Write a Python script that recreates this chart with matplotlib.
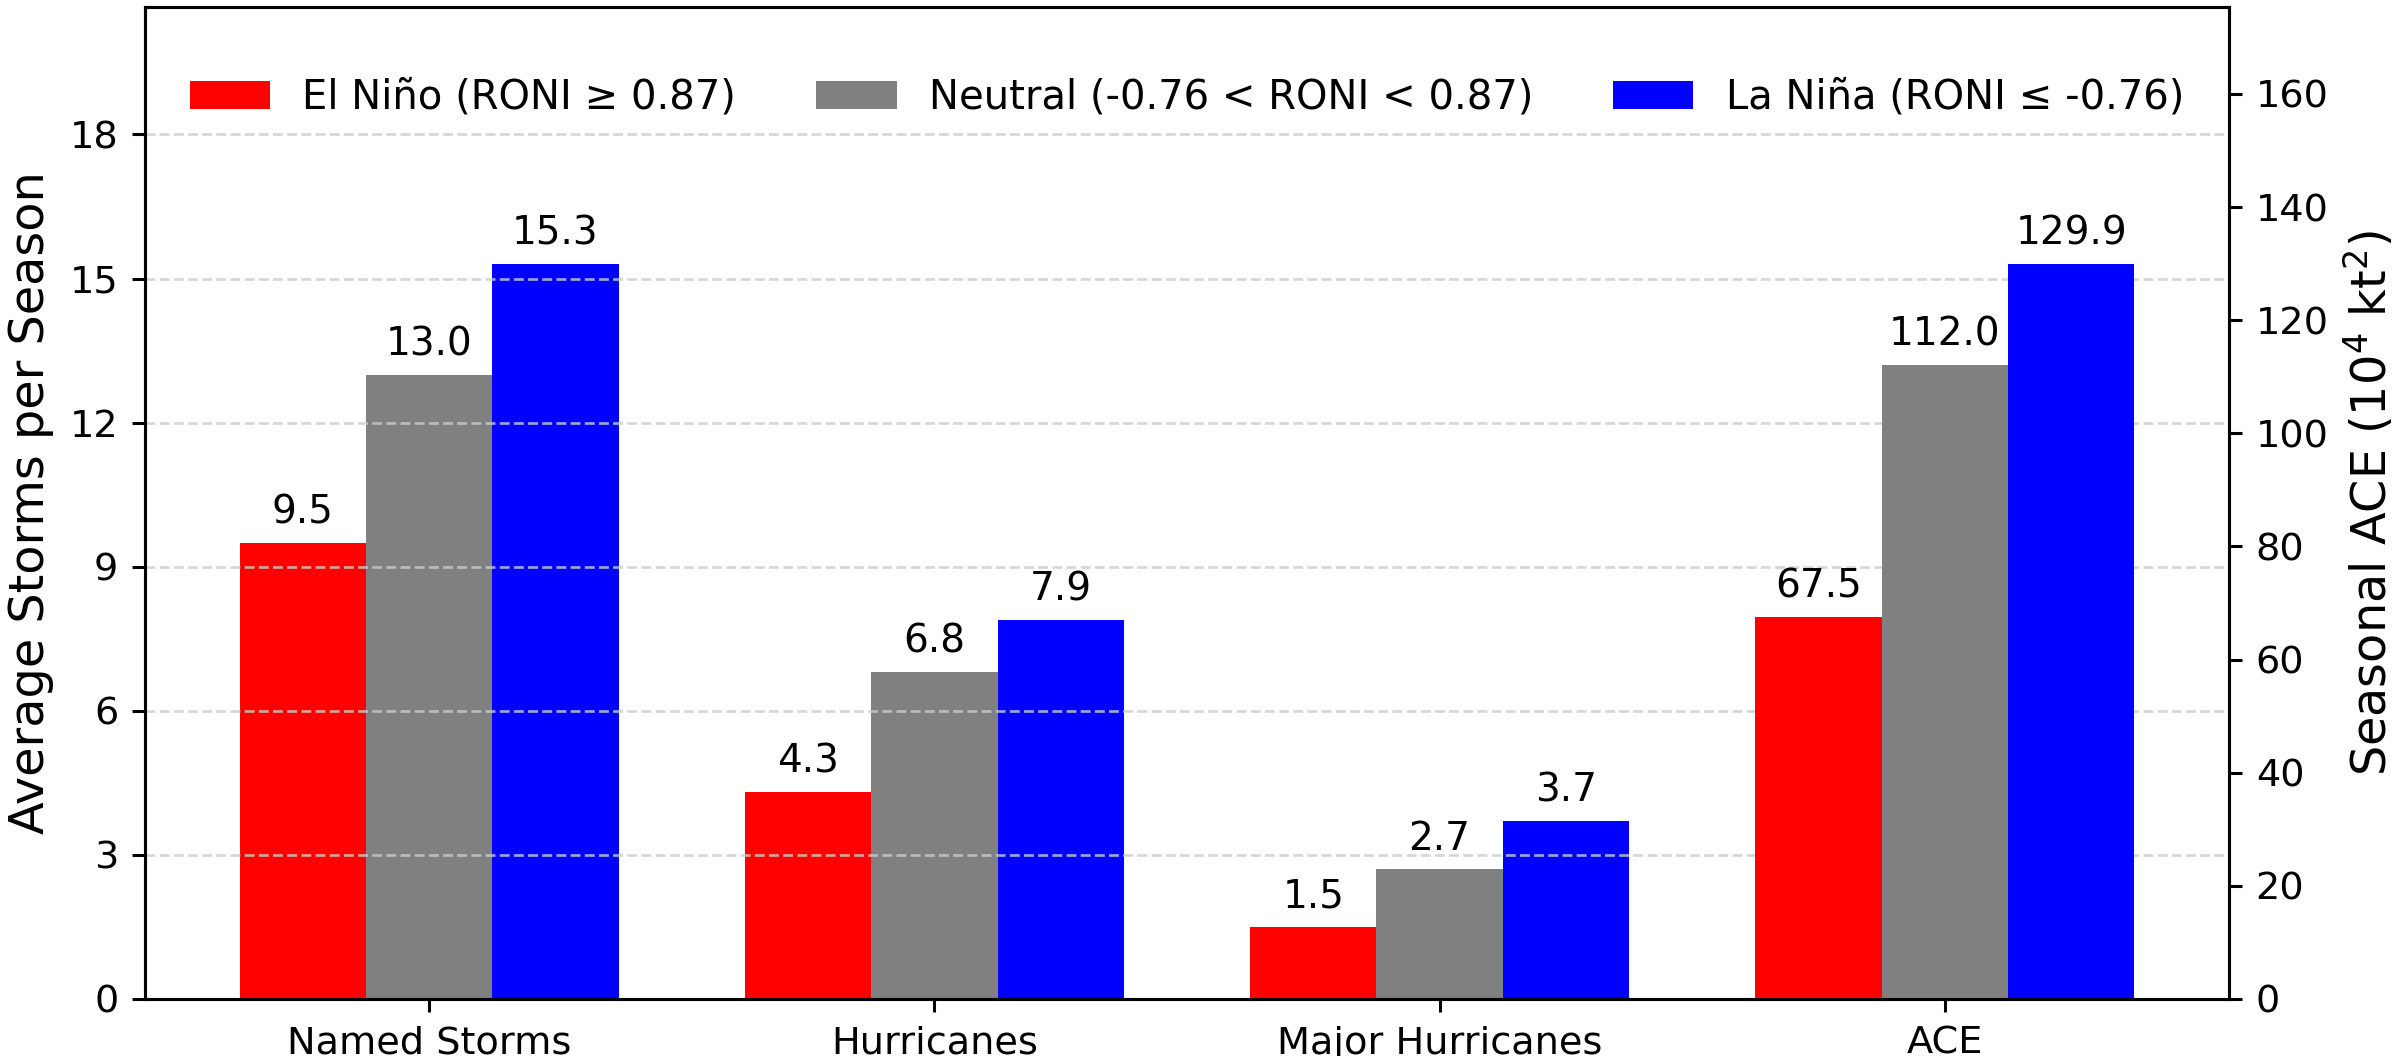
import matplotlib
matplotlib.use("Agg")
import matplotlib.pyplot as plt
import numpy as np

# storm counts per season (left axis) and ACE (right axis)
categories = ["Named Storms", "Hurricanes", "Major Hurricanes", "ACE"]
phases = ["El Niño (RONI ≥ 0.87)", "Neutral (-0.76 < RONI < 0.87)", "La Niña (RONI ≤ -0.76)"]
colors = ["red", "gray", "blue"]

el_nino_counts = [9.5, 4.3, 1.5]
neutral_counts = [13.0, 6.8, 2.7]
la_nina_counts = [15.3, 7.9, 3.7]

el_nino_ace = [67.5]
neutral_ace = [112.0]
la_nina_ace = [129.9]

counts = [el_nino_counts, neutral_counts, la_nina_counts]
aces = [el_nino_ace, neutral_ace, la_nina_ace]

x = np.arange(len(categories))
width = 0.25

fig, ax1 = plt.subplots(figsize=(2405 / 275, 1056 / 275), dpi=275)
fig.subplots_adjust(left=0.0603, right=0.9268, bottom=0.054, top=0.9934)
ax2 = ax1.twinx()

for i, (cnt, ace, col, lab) in enumerate(zip(counts, aces, colors, phases)):
    offset = (i - 1) * width
    r1 = ax1.bar(x[:3] + offset, cnt, width, color=col, label=lab)
    ax1.bar_label(r1, fmt="%.1f", padding=3, fontsize=10.2)
    r2 = ax2.bar(x[3:] + offset, ace, width, color=col)
    ax2.bar_label(r2, fmt="%.1f", padding=3, fontsize=10.2)

ax1.set_ylim(0, max(la_nina_counts) * 1.35)
ax2.set_ylim(0, max(la_nina_ace) * 1.35)
ax1.set_yticks(np.arange(0, 19, 3))
ax2.set_yticks(np.arange(0, 161, 20))
ax1.set_xticks(x, categories)
ax1.tick_params(labelsize=10)
ax2.tick_params(labelsize=10)

ax1.set_ylabel("Average Storms per Season", fontsize=12.5)
ax2.set_ylabel("Seasonal ACE ($10^4$ kt$^2$)", fontsize=12.5)

ax1.set_axisbelow(False)
ax1.grid(axis="y", linestyle="--", color="#cccccc", alpha=0.8, linewidth=0.7)

ax1.legend(loc="upper center", bbox_to_anchor=(0.5, 0.965), ncol=3, frameon=False, fontsize=10.5)

fig.savefig("out.png", dpi=275)
